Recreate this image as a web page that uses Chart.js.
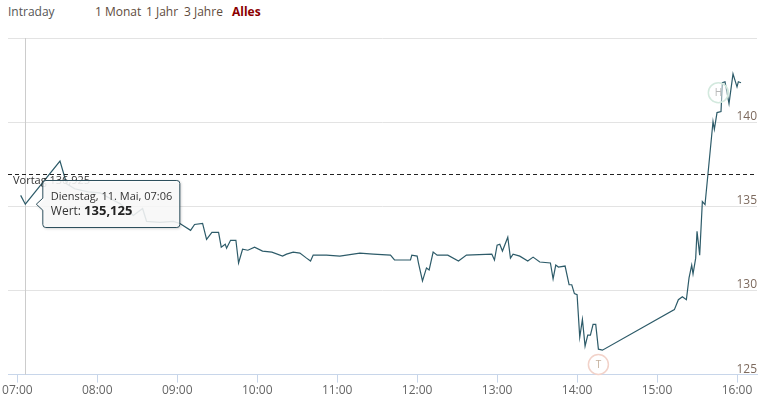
<!DOCTYPE html>
<html>
<head>
<meta charset="utf-8">
<script src="https://cdn.jsdelivr.net/npm/chart.js@4.4.0/dist/chart.umd.min.js"></script>
<style>
  html, body { margin: 0; padding: 0; background: #fff; }
  body { width: 771px; height: 407px; position: relative; overflow: hidden; font-family: "Open Sans", sans-serif; }
  #chart { position: absolute; left: 0; top: 0; }
  .tab { position: absolute; top: 4px; font-size: 12px; line-height: 16px; color: #5e4b3c; white-space: nowrap; }
</style>
</head>
<body>
<span class="tab" style="left:8px;color:#555">Intraday</span>
<span class="tab" style="left:95px">1 Monat</span>
<span class="tab" style="left:146px">1 Jahr</span>
<span class="tab" style="left:184px">3 Jahre</span>
<span class="tab" style="left:232px;color:#8b0000;font-weight:bold">Alles</span>
<canvas id="chart" width="771" height="407"></canvas>
<script>
// minutes after 07:00 and price
const times = [2.5, 6, 32, 37, 43, 53, 62, 70, 77, 87, 94, 97, 107, 117, 122, 130, 133, 139, 142, 146,
  151, 153, 156, 157, 160, 164, 166, 169, 173, 178, 184, 191, 199, 202, 207, 212, 217, 220, 222, 232,
  242, 252, 257, 267, 280, 283, 295, 296, 300, 301, 304, 307, 309, 312, 315, 323, 331, 337, 356, 358,
  360, 362, 364, 368, 370, 372, 377, 383, 387, 392, 400, 402, 404, 406, 411, 414, 416, 418, 420, 422,
  424, 426, 428, 430, 432, 434, 436, 439, 493, 496, 499, 502, 504, 506, 507, 509, 510, 512, 514, 516,
  522, 523, 525, 528, 529, 531, 534, 537, 540, 541, 543];
const values = [135.65, 135.125, 137.69, 136.34, 136.04, 135.86, 135.80, 135.45, 135.16, 134.45, 134.87, 134.10, 134.04, 134.10, 133.98, 133.57, 133.92, 133.98, 133.04, 133.45,
  133.45, 132.57, 132.75, 132.51, 132.98, 132.98, 131.63, 132.45, 132.39, 132.57, 132.34, 132.28, 132.04, 132.16, 132.28, 132.22, 131.92, 131.75, 132.10, 132.10,
  132.04, 132.16, 132.22, 132.16, 132.10, 131.81, 131.81, 132.10, 132.04, 131.63, 130.57, 131.34, 131.22, 132.28, 132.10, 132.10, 131.75, 132.10, 132.16, 131.81,
  132.69, 132.75, 132.34, 133.16, 131.92, 132.16, 132.04, 131.75, 131.98, 131.69, 131.63, 130.69, 131.51, 131.39, 131.45, 130.34, 130.34, 129.81, 129.75, 127.22,
  128.28, 126.69, 127.34, 127.34, 127.98, 127.98, 126.51, 126.45, 128.86, 129.45, 129.63, 129.45, 130.75, 131.51, 130.98, 131.92, 133.51, 132.10, 135.28, 135.10,
  140.04, 139.57, 140.57, 140.63, 142.34, 142.40, 141.10, 142.87, 142.10, 142.40, 142.34];

const xTicks = [0, 60, 120, 180, 240, 300, 360, 420, 480, 540];
const xTickLabels = ['07:00', '08:00', '09:00', '10:00', '11:00', '12:00', '13:00', '14:00', '15:00', '16:00'];
const yTicks = [125, 130, 135, 140, 145];
const yTickLabels = ['125', '130', '135', '140', ''];

const prevClose = 136.925;
const prevCloseLabel = 'Vortag 136,925';
const hoverIndex = 1;
const hoverTitle = 'Dienstag, 11. Mai, 07:06';
const hoverLabel = 'Wert: ';
const hoverValue = '135,125';
const lowMarker = { t: 436, v: 125.6, text: 'T' };
const highMarker = { t: 526, v: 141.75, text: 'H' };

const FONT = '"Open Sans", sans-serif';

function drawMarker(ctx, x, y, m, stroke, color) {
  const cx = x.getPixelForValue(m.t), cy = y.getPixelForValue(m.v);
  ctx.beginPath();
  ctx.arc(cx, cy, 10, 0, Math.PI * 2);
  ctx.fillStyle = 'rgba(255,255,255,0.45)';
  ctx.fill();
  ctx.strokeStyle = stroke;
  ctx.lineWidth = 1.5;
  ctx.stroke();
  ctx.fillStyle = color;
  ctx.font = '10px ' + FONT;
  ctx.textAlign = 'center';
  ctx.textBaseline = 'middle';
  ctx.fillText(m.text, cx, cy + 0.5);
}

const overlay = {
  id: 'overlay',
  beforeDatasetsDraw(chart) {
    const { ctx, chartArea: a, scales: { x, y } } = chart;
    ctx.save();
    // crosshair at hovered point
    const px = Math.round(x.getPixelForValue(times[hoverIndex])) + 0.5;
    ctx.strokeStyle = '#cccccc';
    ctx.lineWidth = 1;
    ctx.beginPath();
    ctx.moveTo(px, a.top);
    ctx.lineTo(px, a.bottom);
    ctx.stroke();
    // y labels sit above their grid lines, inside the plot
    ctx.font = '12px ' + FONT;
    ctx.fillStyle = '#7d6a5e';
    ctx.textAlign = 'right';
    ctx.textBaseline = 'alphabetic';
    yTicks.forEach((v, i) => {
      if (yTickLabels[i]) ctx.fillText(yTickLabels[i], a.right, y.getPixelForValue(v) - 2);
    });
    ctx.restore();
  },
  afterDatasetsDraw(chart) {
    const { ctx, chartArea: a, scales: { x, y } } = chart;
    ctx.save();
    const py = Math.round(y.getPixelForValue(prevClose)) + 0.5;
    ctx.strokeStyle = '#222';
    ctx.lineWidth = 1;
    ctx.setLineDash([4, 3]);
    ctx.beginPath();
    ctx.moveTo(a.left, py);
    ctx.lineTo(a.right, py);
    ctx.stroke();
    ctx.setLineDash([]);
    ctx.font = '11px ' + FONT;
    ctx.fillStyle = '#333';
    ctx.textAlign = 'left';
    ctx.textBaseline = 'middle';
    ctx.fillText(prevCloseLabel, a.left + 5, py + 6);

    drawMarker(ctx, x, y, lowMarker, '#f2d2c9', '#c4b09c');
    drawMarker(ctx, x, y, highMarker, '#d3e9de', '#b8b8b8');
    ctx.restore();
  },
  afterDraw(chart) {
    const { ctx } = chart;
    const pt = chart.getDatasetMeta(0).data[hoverIndex];
    const tipX = pt.x + 11, tipY = pt.y;
    const left = tipX + 6.5, top = Math.round(tipY - 24) + 0.5, w = 137, h = 47, r = 3;
    ctx.save();
    ctx.beginPath();
    ctx.moveTo(left + r, top);
    ctx.lineTo(left + w - r, top);
    ctx.arcTo(left + w, top, left + w, top + r, r);
    ctx.lineTo(left + w, top + h - r);
    ctx.arcTo(left + w, top + h, left + w - r, top + h, r);
    ctx.lineTo(left + r, top + h);
    ctx.arcTo(left, top + h, left, top + h - r, r);
    ctx.lineTo(left, tipY + 6);
    ctx.lineTo(tipX, tipY);
    ctx.lineTo(left, tipY - 6);
    ctx.lineTo(left, top + r);
    ctx.arcTo(left, top, left + r, top, r);
    ctx.closePath();
    ctx.shadowColor = 'rgba(0,0,0,0.25)';
    ctx.shadowBlur = 3;
    ctx.shadowOffsetX = 1;
    ctx.shadowOffsetY = 1;
    ctx.fillStyle = 'rgba(255,255,255,0.86)';
    ctx.fill();
    ctx.shadowColor = 'transparent';
    ctx.strokeStyle = '#2d4f5c';
    ctx.lineWidth = 1;
    ctx.stroke();

    ctx.textAlign = 'left';
    ctx.textBaseline = 'middle';
    ctx.fillStyle = '#333';
    ctx.font = '11px ' + FONT;
    ctx.fillText(hoverTitle, left + 8, top + 16);
    ctx.font = '12px ' + FONT;
    ctx.fillText(hoverLabel, left + 8, top + 31);
    const lw = ctx.measureText(hoverLabel).width;
    ctx.font = 'bold 13px ' + FONT;
    ctx.fillStyle = '#222';
    ctx.fillText(hoverValue, left + 8 + lw, top + 31);
    ctx.restore();
  }
};

new Chart(document.getElementById('chart'), {
  type: 'line',
  data: {
    datasets: [{
      data: times.map((t, i) => ({ x: t, y: values[i] })),
      borderColor: '#2d5b69',
      borderWidth: 1.2,
      pointRadius: 0,
      tension: 0,
      fill: false
    }]
  },
  options: {
    responsive: false,
    animation: false,
    devicePixelRatio: 1,
    layout: { padding: { left: 8, right: 14, top: 38, bottom: 8 } },
    plugins: { legend: { display: false }, tooltip: { enabled: false } },
    events: [],
    scales: {
      x: {
        type: 'linear',
        min: -7,
        max: 555,
        afterBuildTicks: s => { s.ticks = xTicks.map(v => ({ value: v })); },
        ticks: {
          callback: v => xTickLabels[xTicks.indexOf(v)],
          color: '#666',
          font: { family: FONT, size: 12 },
          padding: 1,
          maxRotation: 0,
          autoSkip: false
        },
        grid: { drawOnChartArea: false, drawTicks: true, tickLength: 8, color: '#c8d6ea' },
        border: { color: '#c8d6ea' }
      },
      y: {
        min: 125,
        max: 145,
        afterBuildTicks: s => { s.ticks = yTicks.map(v => ({ value: v })); },
        ticks: { display: false },
        grid: { color: '#e3e3e3', drawTicks: false },
        border: { display: false }
      }
    }
  },
  plugins: [overlay]
});
</script>
</body>
</html>
